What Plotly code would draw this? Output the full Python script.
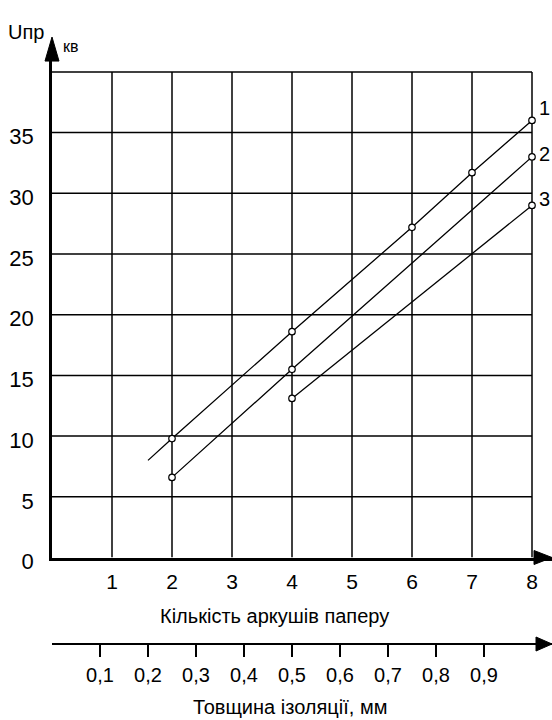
import plotly.graph_objects as go

# ---- data -------------------------------------------------------------
sheet_ticks = [1, 2, 3, 4, 5, 6, 7, 8]
voltage_ticks = [0, 5, 10, 15, 20, 25, 30, 35]
grid_voltages = [5, 10, 15, 20, 25, 30, 35, 40]
thickness_ticks = [0.1, 0.2, 0.3, 0.4, 0.5, 0.6, 0.7, 0.8, 0.9]
thickness_labels = ["0,1", "0,2", "0,3", "0,4", "0,5", "0,6", "0,7", "0,8", "0,9"]

series_names = ["1", "2", "3"]
s1_x = [2, 4, 6, 7, 8]
s1_y = [9.8, 18.6, 27.2, 31.7, 36.0]
s1_start = (1.6, 8.0)          # line 1 begins before its first measured point
s2_x = [2, 4, 8]
s2_y = [6.6, 15.5, 33.0]
s3_x = [4, 8]
s3_y = [13.1, 29.0]

# ---- geometry ---------------------------------------------------------
W, H = 552, 720
ARROW_LEN = 23                          # arrow head on the kV axis sits in the top margin
M_L, M_R, M_T, M_B = 52, 0, 37 + ARROW_LEN, 76
PX_PER_SHEET = 60.0
PX_PER_KV = 12.14
Y_AXIS_PIX = 557.5                      # pixel row of the kV = 0 line
PLOT_H = H - M_T - M_B
y_dom0 = (H - M_B - Y_AXIS_PIX) / PLOT_H
x_max = (W - M_L - M_R) / PX_PER_SHEET
y_max = (Y_AXIS_PIX - M_T) / PX_PER_KV
mm_max = x_max / 8.0                    # 8 sheets = 1.0 mm

FONT = "Liberation Sans, Arial, sans-serif"
BLACK = "#000000"

fig = go.Figure()

# measured lines
lines = [
    ([s1_start[0]] + s1_x, [s1_start[1]] + s1_y, s1_x, s1_y),
    (s2_x, s2_y, s2_x, s2_y),
    (s3_x, s3_y, s3_x, s3_y),
]
for name, (lx, ly, mx, my) in zip(series_names, lines):
    fig.add_trace(go.Scatter(
        x=lx, y=ly, mode="lines", name=name,
        line=dict(color=BLACK, width=1.3), hoverinfo="skip", showlegend=False,
    ))
    fig.add_trace(go.Scatter(
        x=mx, y=my, mode="markers", name=name,
        marker=dict(symbol="circle", size=6.5, color="white",
                    line=dict(color=BLACK, width=1.2)),
        showlegend=False,
    ))

# grid
shapes = []
for gx in sheet_ticks:
    shapes.append(dict(type="line", xref="x", yref="y", x0=gx, x1=gx,
                       y0=0, y1=grid_voltages[-1], layer="below",
                       line=dict(color=BLACK, width=1.5)))
for gy in grid_voltages:
    shapes.append(dict(type="line", xref="x", yref="y", x0=0, x1=sheet_ticks[-1],
                       y0=gy, y1=gy, layer="below",
                       line=dict(color=BLACK, width=1.5)))

# arrow heads on the axes
shapes.append(dict(type="path", xref="paper", yref="paper",
                   xsizemode="pixel", ysizemode="pixel", xanchor=1e-6, yanchor=0.9999,
                   path=f"M -7,-1 L 0,{ARROW_LEN} L 7,-1 Z",
                   fillcolor=BLACK, line=dict(color=BLACK, width=1), layer="above"))
shapes.append(dict(type="path", xref="paper", yref="paper",
                   xsizemode="pixel", ysizemode="pixel", xanchor=1, yanchor=y_dom0,
                   path="M -18,-7 L 0,0 L -18,7 Z",
                   fillcolor=BLACK, line=dict(color=BLACK, width=1)))
shapes.append(dict(type="path", xref="paper", yref="paper",
                   xsizemode="pixel", ysizemode="pixel", xanchor=1, yanchor=0,
                   path="M -16,-7 L 0,0 L -16,7 Z",
                   fillcolor=BLACK, line=dict(color=BLACK, width=1)))

annotations = []
# curve numbers at the line ends
label_shift = [12, 3, 6]
for name, xs, ys, dy in zip(series_names, [s1_x, s2_x, s3_x], [s1_y, s2_y, s3_y], label_shift):
    annotations.append(dict(x=xs[-1], y=ys[-1], xref="x", yref="y", text=name,
                            showarrow=False, xanchor="left", yanchor="middle",
                            xshift=5, yshift=dy,
                            font=dict(family=FONT, size=20, color=BLACK)))

# axis captions
annotations.append(dict(x=0, y=1, xref="paper", yref="paper", text="Uпр",
                        showarrow=False, xanchor="right", yanchor="bottom",
                        xshift=-6, yshift=15,
                        font=dict(family=FONT, size=20, color=BLACK)))
annotations.append(dict(x=0, y=1, xref="paper", yref="paper", text="кв",
                        showarrow=False, xanchor="left", yanchor="middle",
                        xshift=9, yshift=14,
                        font=dict(family=FONT, size=16, color=BLACK)))
annotations.append(dict(x=3.7, y=y_dom0, xref="x", yref="paper",
                        text="Кількість аркушів паперу",
                        showarrow=False, xanchor="center", yanchor="middle",
                        yshift=-(616 - Y_AXIS_PIX),
                        font=dict(family=FONT, size=20, color=BLACK)))
annotations.append(dict(x=0.495, y=0, xref="x2", yref="paper",
                        text="Товщина ізоляції, мм",
                        showarrow=False, xanchor="center", yanchor="middle",
                        yshift=-(707 - (H - M_B)),
                        font=dict(family=FONT, size=20, color=BLACK)))

fig.update_layout(
    width=W, height=H,
    margin=dict(l=M_L, r=M_R, t=M_T, b=M_B, pad=0),
    paper_bgcolor="white", plot_bgcolor="white",
    showlegend=False,
    shapes=shapes, annotations=annotations,
    xaxis=dict(
        range=[0, x_max], anchor="y", domain=[0, 1],
        showgrid=False, zeroline=False,
        showline=True, linecolor=BLACK, linewidth=2.5,
        tickmode="array", tickvals=sheet_ticks,
        ticktext=[str(v) for v in sheet_ticks],
        ticks="", ticklabelstandoff=4,
        tickfont=dict(family=FONT, size=21, color=BLACK),
        fixedrange=True,
    ),
    xaxis2=dict(
        range=[0, mm_max], overlaying="x", anchor="free", position=0,
        side="bottom",
        showgrid=False, zeroline=False,
        showline=True, linecolor=BLACK, linewidth=2,
        tickmode="array", tickvals=thickness_ticks, ticktext=thickness_labels,
        ticks="outside", ticklen=12, tickwidth=1.5, tickcolor=BLACK,
        ticklabelstandoff=1,
        tickfont=dict(family=FONT, size=20, color=BLACK),
        fixedrange=True,
    ),
    yaxis=dict(
        range=[0, y_max], domain=[y_dom0, 1], anchor="x",
        showgrid=False, zeroline=False,
        showline=True, linecolor=BLACK, linewidth=2.5,
        tickmode="array", tickvals=voltage_ticks,
        ticktext=[str(v) for v in voltage_ticks],
        ticks="", ticklabelstandoff=11, ticklabelshift=4,
        tickfont=dict(family=FONT, size=22, color=BLACK),
        fixedrange=True,
    ),
)

fig.write_html("out.html")
